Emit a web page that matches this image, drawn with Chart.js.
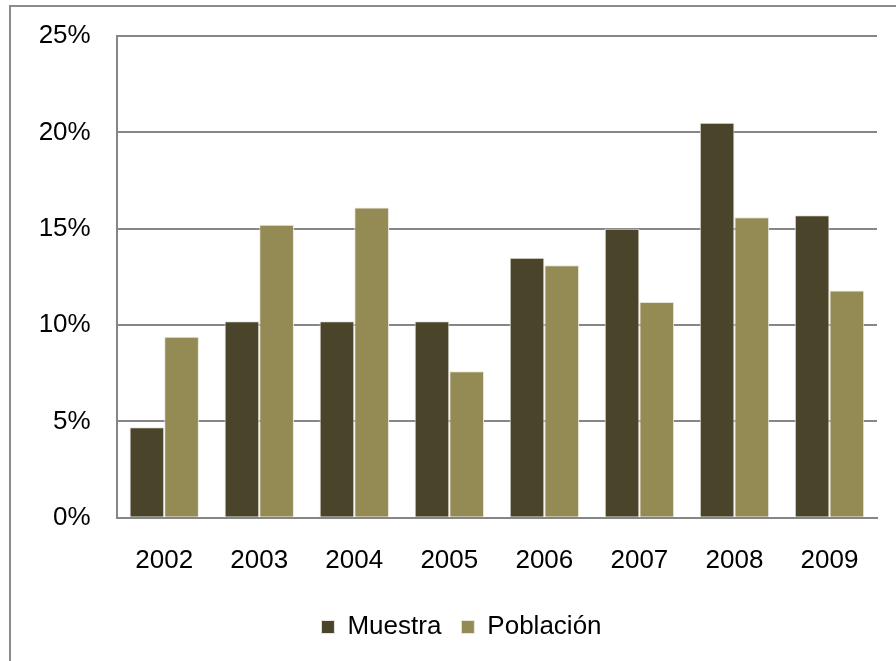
<!DOCTYPE html>
<html>
<head>
<meta charset="utf-8">
<script src="https://cdn.jsdelivr.net/npm/chart.js@4"></script>
<style>
  html, body { margin: 0; padding: 0; background: #fff; overflow: hidden; }
  #frame { position: absolute; left: 9px; top: 5px; width: 900px; height: 700px; border: 2px solid #8c8c8c; box-sizing: border-box; }
  #wrap { position: absolute; left: 0; top: 0; width: 896px; height: 661px; }
</style>
</head>
<body>
<div id="frame"></div>
<div id="wrap"><canvas id="myChart"></canvas></div>
<script>
// data (percent)
const years = ['2002', '2003', '2004', '2005', '2006', '2007', '2008', '2009'];
const muestra = [4.7, 10.2, 10.2, 10.2, 13.5, 15.0, 20.5, 15.7];
const poblacion = [9.4, 15.2, 16.1, 7.6, 13.1, 11.2, 15.6, 11.8];

Chart.defaults.font.family = '"Liberation Sans", Arial, sans-serif';
Chart.defaults.color = '#000';

// legend sits a bit right of the canvas centre in the original
const shiftLegend = {
    id: 'shiftLegend',
    afterLayout(chart) {
        chart.legend.left += 13;
        chart.legend.right += 13;
    }
};

const ctx = document.getElementById('myChart');

new Chart(ctx, {
    type: 'bar',
    data: {
        labels: years,
        datasets: [{
            label: 'Muestra',
            data: muestra,
            backgroundColor: '#4a452a',
            borderColor: '#e8e6dc',
            borderWidth: 1
        }, {
            label: 'Población',
            data: poblacion,
            backgroundColor: '#948a54',
            borderColor: '#e8e6dc',
            borderWidth: 1
        }]
    },
    plugins: [shiftLegend],
    options: {
        responsive: true,
        maintainAspectRatio: false,
        animation: false,
        layout: {
            padding: { left: 20, right: 19, top: 36, bottom: 11 }
        },
        datasets: {
            bar: { categoryPercentage: 0.73, barPercentage: 1 }
        },
        scales: {
            x: {
                afterFit: (scale) => { scale.height -= 9; },
                grid: { display: false, drawTicks: false },
                border: { color: '#868686', width: 2 },
                ticks: { font: { size: 26 }, padding: 27 }
            },
            y: {
                min: 0,
                max: 25,
                afterFit: (scale) => {
                    scale.width = 96.7;
                    scale.paddingTop = 0;
                    scale.paddingBottom = 0;
                },
                grid: { color: '#868686', lineWidth: 2, drawTicks: false },
                border: { color: '#868686', width: 2 },
                ticks: {
                    stepSize: 5,
                    font: { size: 26 },
                    padding: 26,
                    callback: (v) => v + '%'
                }
            }
        },
        plugins: {
            tooltip: { enabled: false },
            legend: {
                position: 'bottom',
                labels: {
                    boxWidth: 13,
                    boxHeight: 13,
                    padding: 20,
                    font: { size: 26 }
                }
            }
        }
    }
});
</script>
</body>
</html>
